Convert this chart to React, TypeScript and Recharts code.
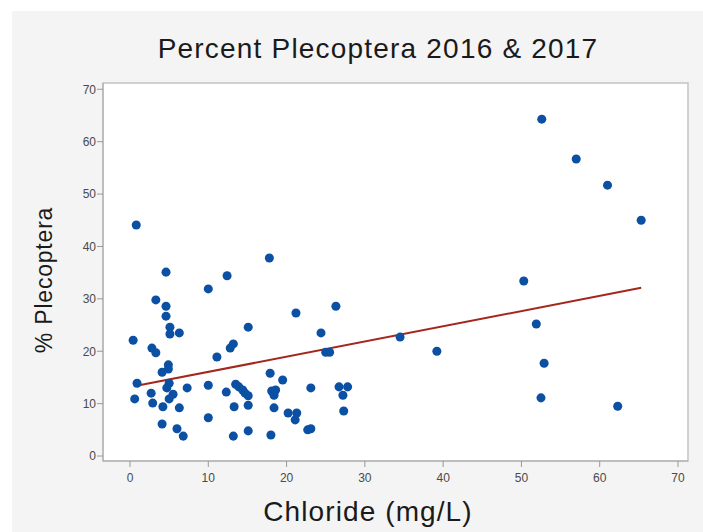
import { ScatterChart, Scatter, XAxis, YAxis, ZAxis, ReferenceArea } from 'recharts'

// chloride (mg/L) and % plecoptera, one entry per site sample
const chloride = [
  0.8, 0.4, 0.9, 0.6, 4.6, 3.3, 4.6, 4.6, 5.1, 5.1, 6.3, 2.8, 3.3, 4.9, 4.9, 4.1, 5.0, 4.7, 7.3, 2.7,
  5.5, 5.0, 2.9, 4.2, 6.3, 4.1, 6.0, 6.8, 17.8, 12.4, 10.0, 26.3, 21.2, 15.1, 24.4, 13.2, 12.8, 25.0,
  25.5, 11.1, 17.9, 19.5, 10.0, 13.5, 13.9, 14.4, 14.7, 15.1, 12.3, 18.1, 18.6, 18.4, 23.1, 26.7, 27.8,
  27.2, 15.1, 13.3, 18.4, 20.2, 21.3, 21.1, 27.3, 10.0, 22.7, 23.1, 15.1, 13.2, 18.0, 52.6, 57.0, 61.0,
  65.3, 50.3, 51.9, 39.2, 52.9, 52.5, 62.3, 34.5,
]
const plecoptera = [
  44.1, 22.1, 13.9, 10.9, 35.1, 29.8, 28.6, 26.7, 24.6, 23.3, 23.5, 20.6, 19.7, 17.4, 16.6, 16.0, 13.9,
  13.0, 13.0, 12.0, 11.8, 10.9, 10.1, 9.4, 9.2, 6.1, 5.2, 3.8, 37.8, 34.4, 31.9, 28.6, 27.3, 24.6, 23.5,
  21.4, 20.6, 19.8, 19.8, 18.9, 15.8, 14.5, 13.5, 13.7, 13.2, 12.6, 12.0, 11.5, 12.2, 12.4, 12.6, 11.6,
  13.0, 13.2, 13.2, 11.6, 9.7, 9.4, 9.2, 8.2, 8.2, 6.9, 8.6, 7.3, 5.0, 5.2, 4.8, 3.8, 4.0, 64.3, 56.7,
  51.7, 45.0, 33.4, 25.2, 20.0, 17.7, 11.1, 9.5, 22.7,
]

// fitted trend line end points
const trendX = [0.5, 65.3]
const trendY = [13.3, 32.1]

const xTicks = [0, 10, 20, 30, 40, 50, 60, 70]
const yTicks = [0, 10, 20, 30, 40, 50, 60, 70]
const xDomain: [number, number] = [-3.45, 71.28]
const yDomain: [number, number] = [-0.95, 71.2]

const points = chloride.map((x, i) => ({ x, y: plecoptera[i] }))
const trend = trendX.map((x, i) => ({ x, y: trendY[i] }))

const font = "'Liberation Sans', Arial, sans-serif"
const tickStyle = { fill: '#4a4a4a', fontSize: 12, fontFamily: font }

export default function App() {
  return (
    <div style={{ position: 'absolute', left: 0, top: 0, width: 703, height: 532, background: '#fff' }}>
      <div style={{ position: 'absolute', left: 12, top: 11, width: 691, height: 521, background: '#f4f4f4' }} />
      <div style={{ position: 'absolute', left: 0, top: 0 }}>
        <ScatterChart width={703} height={532} margin={{ top: 83, right: 15, bottom: 41, left: 63 }}>
          <ReferenceArea
            x1={xDomain[0]}
            x2={xDomain[1]}
            y1={yDomain[0]}
            y2={yDomain[1]}
            fill="#fff"
            fillOpacity={1}
            stroke="#c4c4c4"
            strokeWidth={1.5}
          />
          <XAxis
            type="number"
            dataKey="x"
            domain={xDomain}
            ticks={xTicks}
            allowDataOverflow
            height={30}
            tickSize={6}
            tickMargin={6}
            tick={tickStyle}
            axisLine={{ stroke: '#aaa' }}
            tickLine={{ stroke: '#999' }}
          />
          <YAxis
            type="number"
            dataKey="y"
            domain={yDomain}
            ticks={yTicks}
            allowDataOverflow
            width={40}
            tickSize={6}
            tickMargin={1}
            tick={tickStyle}
            axisLine={{ stroke: '#aaa' }}
            tickLine={{ stroke: '#999' }}
          />
          <ZAxis range={[80, 80]} />
          <Scatter
            data={trend}
            line={{ stroke: '#a3271d', strokeWidth: 2 }}
            shape={() => <g />}
            isAnimationActive={false}
          />
          <Scatter data={points} fill="#0b50a3" isAnimationActive={false} />
        </ScatterChart>
      </div>
      <svg width={703} height={532} style={{ position: 'absolute', left: 0, top: 0, pointerEvents: 'none' }}>
        <text x={378} y={58} textAnchor="middle" fontFamily={font} fontSize={28} letterSpacing={1.2} fill="#1a1a1a">
          Percent Plecoptera 2016 &amp; 2017
        </text>
        <text x={368} y={521} textAnchor="middle" fontFamily={font} fontSize={28} letterSpacing={1.1} fill="#1a1a1a">
          Chloride (mg/L)
        </text>
        <text
          x={52}
          y={280}
          transform="rotate(-90, 52, 280)"
          textAnchor="middle"
          fontFamily={font}
          fontSize={23}
          letterSpacing={0.8}
          fill="#1a1a1a"
        >
          % Plecoptera
        </text>
      </svg>
    </div>
  )
}
